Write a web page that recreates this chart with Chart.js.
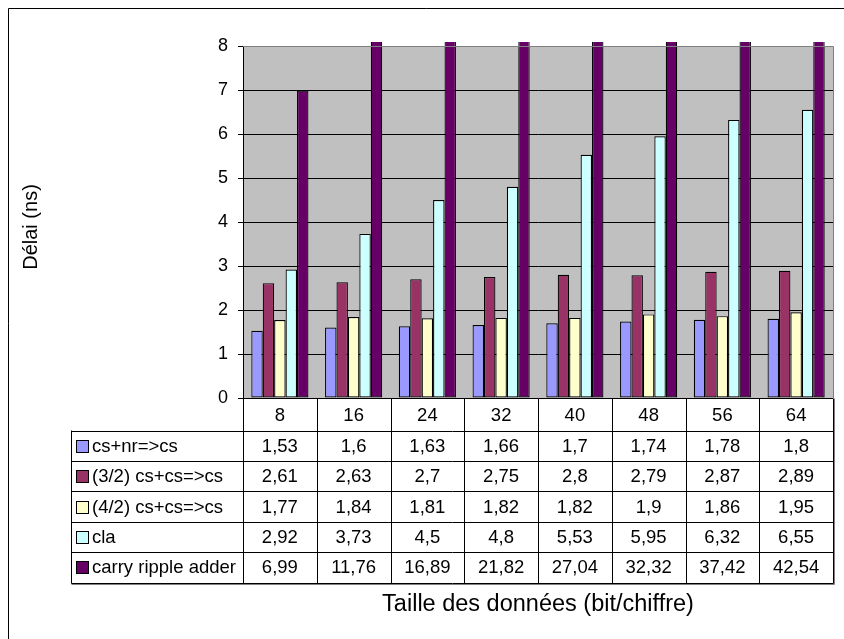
<!DOCTYPE html>
<html>
<head>
<meta charset="utf-8">
<script src="https://cdn.jsdelivr.net/npm/chart.js@4"></script>
<style>
  body { margin: 0; background: #fff; }
  #wrap { width: 844px; height: 639px; }
</style>
</head>
<body>
<div id="wrap"><canvas id="chart" width="844" height="639"></canvas></div>
<script>
var labels = ['8', '16', '24', '32', '40', '48', '56', '64'];

var csNr = [1.53, 1.6, 1.63, 1.66, 1.7, 1.74, 1.78, 1.8];
var cs32 = [2.61, 2.63, 2.7, 2.75, 2.8, 2.79, 2.87, 2.89];
var cs42 = [1.77, 1.84, 1.81, 1.82, 1.82, 1.9, 1.86, 1.95];
var cla = [2.92, 3.73, 4.5, 4.8, 5.53, 5.95, 6.32, 6.55];
var carryRipple = [6.99, 11.76, 16.89, 21.82, 27.04, 32.32, 37.42, 42.54];

var seriesNames = ['cs+nr=>cs', '(3/2) cs+cs=>cs', '(4/2) cs+cs=>cs', 'cla', 'carry ripple adder'];
var seriesColors = ['#9999FF', '#993366', '#FFFFCC', '#CCFFFF', '#660066'];
var yTicks = [0, 1, 2, 3, 4, 5, 6, 7, 8];

var FONT = '"Liberation Sans", Arial, sans-serif';

function fmt(v) {
    return String(v).replace('.', ',');
}

var seriesData = [csNr, cs32, cs42, cla, carryRipple];

var datasets = seriesData.map(function (d, i) {
    var ds = {
        label: seriesNames[i],
        data: d,
        backgroundColor: seriesColors[i],
        borderColor: '#000',
        borderWidth: 1.2,
        borderSkipped: false,
        categoryPercentage: 0.775,
        barPercentage: 1.0
    };
    // the long bars stick out a little above the plot, as in the original
    ds.clip = { left: 0, top: 4, right: 0, bottom: 0 };
    return ds;
});

// background, table under the plot, titles and frame
var decor = {
    id: 'decor',
    beforeDraw: function (chart) {
        var ctx = chart.ctx, a = chart.chartArea;
        ctx.save();
        ctx.fillStyle = '#fff';
        ctx.fillRect(0, 0, chart.width, chart.height);
        ctx.fillStyle = '#C0C0C0';
        ctx.fillRect(a.left, a.top, a.right - a.left, a.bottom - a.top);
        ctx.restore();
    },
    afterDraw: function (chart) {
        var ctx = chart.ctx, a = chart.chartArea;
        var xs = chart.scales.x;
        var n = labels.length;
        var cw = (a.right - a.left) / n;

        ctx.save();
        // plot border (top and right, grey)
        ctx.strokeStyle = '#808080';
        ctx.lineWidth = 1;
        ctx.beginPath();
        ctx.moveTo(a.left, Math.round(a.top) + 0.5);
        ctx.lineTo(Math.round(a.right) + 0.5, Math.round(a.top) + 0.5);
        ctx.lineTo(Math.round(a.right) + 0.5, a.bottom);
        ctx.stroke();

        // data table
        var tLeft = 71.5;
        var hTop = Math.round(a.bottom) + 0.5;
        var hBot = 430.5;
        var rowH = 30.4;
        var tBot = Math.round(hBot + rowH * seriesNames.length) + 0.5;

        // light shadow on right and bottom edge of the table
        ctx.strokeStyle = '#808080';
        ctx.beginPath();
        ctx.moveTo(Math.round(a.right) + 1.5, hTop);
        ctx.lineTo(Math.round(a.right) + 1.5, tBot + 1);
        ctx.lineTo(tLeft, tBot + 1);
        ctx.stroke();

        ctx.strokeStyle = '#000';
        ctx.beginPath();
        for (var r = 0; r <= seriesNames.length; r++) {
            var y = Math.round(hBot + rowH * r) + 0.5;
            ctx.moveTo(tLeft, y);
            ctx.lineTo(Math.round(a.right) + 0.5, y);
        }
        ctx.moveTo(tLeft, hBot);
        ctx.lineTo(tLeft, tBot);
        for (var c = 0; c <= n; c++) {
            var x = Math.round(a.left + cw * c) + 0.5;
            ctx.moveTo(x, hTop);
            ctx.lineTo(x, tBot);
        }
        ctx.stroke();

        ctx.fillStyle = '#000';
        ctx.font = '18.5px ' + FONT;
        ctx.textAlign = 'center';
        ctx.textBaseline = 'middle';
        for (var i = 0; i < n; i++) {
            var cx = xs.getPixelForValue(i);
            ctx.fillText(labels[i], cx, (hTop + hBot) / 2 + 1);
            for (var s = 0; s < seriesData.length; s++) {
                var ry = hBot + rowH * s + rowH / 2 + 1;
                ctx.fillText(fmt(seriesData[s][i]), cx, ry);
            }
        }

        ctx.textAlign = 'left';
        for (var k = 0; k < seriesNames.length; k++) {
            var my = hBot + rowH * k + rowH / 2;
            ctx.fillStyle = seriesColors[k];
            ctx.fillRect(76.5, Math.round(my - 6) + 0.5, 12, 12);
            ctx.strokeStyle = '#000';
            ctx.strokeRect(76.5, Math.round(my - 6) + 0.5, 12, 12);
            ctx.fillStyle = '#000';
            ctx.fillText(seriesNames[k], 92, my + 1);
        }

        // axis titles
        ctx.font = '23.5px ' + FONT;
        ctx.textAlign = 'center';
        ctx.fillText('Taille des données (bit/chiffre)', (a.left + a.right) / 2, 605);

        ctx.save();
        ctx.translate(31, 227);
        ctx.rotate(-Math.PI / 2);
        ctx.font = '20px ' + FONT;
        ctx.fillText('Délai (ns)', 0, 0);
        ctx.restore();

        // outer frame
        ctx.strokeStyle = '#000';
        ctx.beginPath();
        ctx.moveTo(8.5, chart.height);
        ctx.lineTo(8.5, 8.5);
        ctx.lineTo(chart.width, 8.5);
        ctx.stroke();
        ctx.restore();
    }
};

var config = {
    type: 'bar',
    data: {
        labels: labels,
        datasets: datasets
    },
    options: {
        responsive: false,
        animation: false,
        layout: {
            padding: { left: 0, top: 46, right: 11, bottom: 241 }
        },
        plugins: {
            legend: { display: false },
            tooltip: { enabled: false }
        },
        scales: {
            x: {
                display: false
            },
            y: {
                min: 0,
                max: 8,
                afterFit: function (scale) { scale.width = 243; },
                afterBuildTicks: function (scale) {
                    scale.ticks = yTicks.map(function (v) { return { value: v }; });
                },
                ticks: {
                    color: '#000',
                    padding: 10,
                    font: { family: FONT, size: 18 }
                },
                grid: {
                    color: '#000',
                    lineWidth: 1,
                    tickLength: 5
                },
                border: { display: true, color: '#000', width: 1 }
            }
        }
    },
    plugins: [decor]
};

var barChart = new Chart(document.getElementById('chart'), config);
</script>
</body>
</html>
